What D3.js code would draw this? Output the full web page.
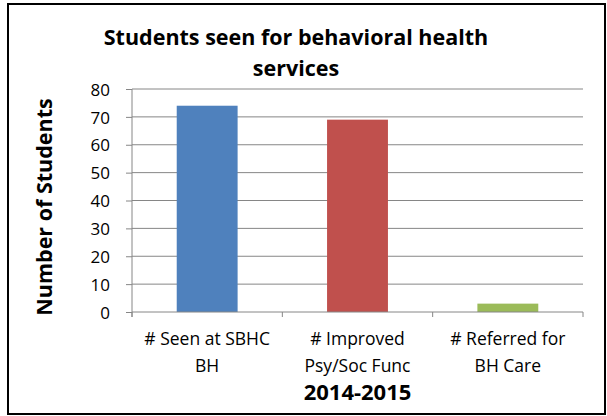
<!DOCTYPE html>
<html>
<head>
<meta charset="utf-8">
<script src="https://cdn.jsdelivr.net/npm/d3@7"></script>
<style>
  body { margin: 0; background: #fff; }
  text { font-family: "Open Sans", sans-serif; fill: #000; }
</style>
</head>
<body>
<div id="chart"></div>
<script>
// chart data
var categories = ['# Seen at SBHC BH', '# Improved Psy/Soc Func', '# Referred for BH Care']
var catLines = [['# Seen at SBHC', 'BH'], ['# Improved', 'Psy/Soc Func'], ['# Referred for', 'BH Care']]
var values = [74, 69, 3]
var barColors = ['#4f81bd', '#c0504d', '#9bbb59']
var yTicks = [0, 10, 20, 30, 40, 50, 60, 70, 80]
var titleLines = ['Students seen for behavioral health', 'services']
var xTitle = '2014-2015'
var yTitle = 'Number of Students'

var svgWidth = 607
var svgHeight = 416

var margin = { top: 89, bottom: 104, left: 132, right: 24 }
var width = svgWidth - margin.left - margin.right
var height = svgHeight - margin.top - margin.bottom

var svg = d3.select('#chart')
  .append('svg')
  .attr('width', svgWidth)
  .attr('height', svgHeight)

// outer border
svg.append('rect')
  .attr('x', 8).attr('y', 4)
  .attr('width', 597).attr('height', 410)
  .attr('fill', 'none')
  .attr('stroke', '#000')
  .attr('stroke-width', 2)

var chartGroup = svg.append('g')
  .attr('transform', `translate(${margin.left}, ${margin.top})`)

var xScale = d3.scaleBand()
  .domain(categories)
  .range([0, width])
  .paddingInner(0.595)
  .paddingOuter(0.2975)

var yScale = d3.scaleLinear()
  .domain([0, 80])
  .range([height, 0])

// gridlines
chartGroup.append('g')
  .selectAll('line')
  .data(yTicks.slice(1))
  .enter()
  .append('line')
  .attr('x1', 0).attr('x2', width)
  .attr('y1', d => yScale(d)).attr('y2', d => yScale(d))
  .attr('stroke', '#868686')
  .attr('stroke-width', 1)

// y axis
var yAxis = d3.axisLeft(yScale).tickValues(yTicks).tickSize(6).tickPadding(16)
var yg = chartGroup.append('g').call(yAxis)
yg.select('.domain').attr('stroke', '#868686').attr('d', `M0,${height + 5}V0`)
yg.selectAll('.tick line').attr('stroke', '#868686')
yg.selectAll('.tick text')
  .style('font-size', '17px')
  .attr('fill', '#000')
  .attr('dy', '0.36em')

// bars
chartGroup.selectAll('rect.bar')
  .data(values)
  .enter()
  .append('rect')
  .attr('class', 'bar')
  .attr('x', (d, i) => xScale(categories[i]))
  .attr('width', xScale.bandwidth())
  .attr('y', d => yScale(d))
  .attr('height', d => height - yScale(d))
  .attr('fill', (d, i) => barColors[i])

// x axis line and ticks at category boundaries
chartGroup.append('line')
  .attr('x1', 0).attr('x2', width)
  .attr('y1', height).attr('y2', height)
  .attr('stroke', '#868686')
chartGroup.selectAll('line.xtick')
  .data(d3.range(categories.length + 1))
  .enter()
  .append('line')
  .attr('class', 'xtick')
  .attr('x1', i => i * width / categories.length)
  .attr('x2', i => i * width / categories.length)
  .attr('y1', height).attr('y2', height + 5)
  .attr('stroke', '#868686')

// category labels
var labels = chartGroup.selectAll('text.cat')
  .data(catLines)
  .enter()
  .append('text')
  .attr('class', 'cat')
  .attr('text-anchor', 'middle')
  .style('font-size', '17.5px')
  .attr('x', (d, i) => xScale(categories[i]) + xScale.bandwidth() / 2)
  .attr('y', height + 33)
labels.selectAll('tspan')
  .data(d => d)
  .enter()
  .append('tspan')
  .attr('x', function() { return d3.select(this.parentNode).attr('x') })
  .attr('dy', (d, i) => i === 0 ? 0 : 27)
  .text(d => d)

// x axis title
chartGroup.append('text')
  .attr('x', width / 2)
  .attr('y', height + 88)
  .attr('text-anchor', 'middle')
  .style('font-size', '22px')
  .style('font-weight', 'bold')
  .text(xTitle)

// y axis title
svg.append('text')
  .attr('transform', 'translate(52, 207) rotate(-90)')
  .attr('text-anchor', 'middle')
  .style('font-size', '21.5px')
  .style('font-weight', 'bold')
  .text(yTitle)

// chart title
svg.selectAll('text.title')
  .data(titleLines)
  .enter()
  .append('text')
  .attr('class', 'title')
  .attr('x', 296)
  .attr('y', (d, i) => 45 + i * 31)
  .attr('text-anchor', 'middle')
  .style('font-size', '21.5px')
  .style('font-weight', 'bold')
  .text(d => d)
</script>
</body>
</html>
